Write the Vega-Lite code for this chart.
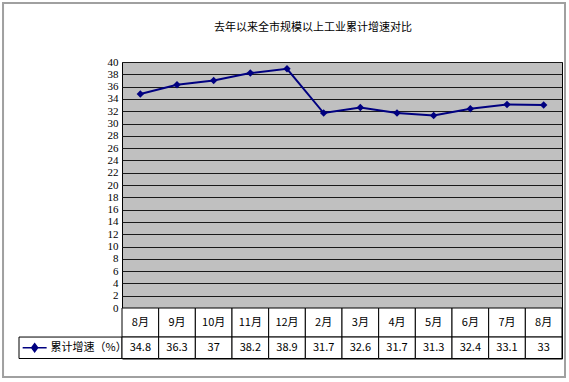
{
  "$schema": "https://vega.github.io/schema/vega-lite/v6.json",
  "padding": {"left": 2, "top": 2, "right": 2, "bottom": 2},
  "background": "white",
  "datasets": {
    "growth": [
      {"key": "上年8月", "label": "8月", "value": 34.8},
      {"key": "上年9月", "label": "9月", "value": 36.3},
      {"key": "上年10月", "label": "10月", "value": 37},
      {"key": "上年11月", "label": "11月", "value": 38.2},
      {"key": "上年12月", "label": "12月", "value": 38.9},
      {"key": "本年2月", "label": "2月", "value": 31.7},
      {"key": "本年3月", "label": "3月", "value": 32.6},
      {"key": "本年4月", "label": "4月", "value": 31.7},
      {"key": "本年5月", "label": "5月", "value": 31.3},
      {"key": "本年6月", "label": "6月", "value": 32.4},
      {"key": "本年7月", "label": "7月", "value": 33.1},
      {"key": "本年8月", "label": "8月", "value": 33}
    ]
  },
  "spacing": 0,
  "bounds": "flush",
  "hconcat": [
    {
      "width": 103,
      "height": 296.5,
      "data": {"values": [{}]},
      "layer": [
        {
          "mark": {"type": "rect", "fillOpacity": 0, "stroke": "#a0a0a0", "strokeWidth": 2},
          "encoding": {
            "x": {"datum": -0.155, "type": "quantitative", "scale": {"domain": [0, 1], "nice": false, "zero": false}, "axis": null},
            "x2": {"datum": 5.301},
            "y": {"datum": 49.59, "type": "quantitative", "scale": {"domain": [-8.21, 40], "nice": false, "zero": false}, "axis": null},
            "y2": {"datum": -11.22}
          }
        },
        {
          "mark": {"type": "rect", "fill": "white", "stroke": "black", "strokeWidth": 1},
          "encoding": {
            "x": {"datum": 0, "type": "quantitative", "scale": {"domain": [0, 1], "nice": false, "zero": false}, "axis": null},
            "x2": {"datum": 1},
            "y": {"datum": -4.72, "type": "quantitative", "scale": {"domain": [-8.21, 40], "nice": false, "zero": false}, "axis": null},
            "y2": {"datum": -8.21}
          }
        },
        {
          "mark": {"type": "point", "shape": "M-1,0L1,0M0,-0.33L0.25,0L0,0.33L-0.25,0Z", "size": 576, "filled": true, "fill": "#000080", "stroke": "#000080", "strokeWidth": 1.5, "opacity": 1},
          "encoding": {
            "x": {"datum": 0.152, "type": "quantitative", "scale": {"domain": [0, 1], "nice": false, "zero": false}, "axis": null},
            "y": {"datum": -6.46, "type": "quantitative", "scale": {"domain": [-8.21, 40], "nice": false, "zero": false}, "axis": null}
          }
        },
        {
          "mark": {"type": "text", "align": "left", "baseline": "middle", "fontSize": 11, "font": "Noto Sans CJK SC", "color": "#000000"},
          "encoding": {
            "x": {"datum": 0.306, "type": "quantitative", "scale": {"domain": [0, 1], "nice": false, "zero": false}, "axis": null},
            "y": {"datum": -6.46, "type": "quantitative", "scale": {"domain": [-8.21, 40], "nice": false, "zero": false}, "axis": null},
            "text": {"datum": "累计增速（%）"}
          }
        }
      ]
    },
    {
      "width": 440,
      "height": 296.5,
      "view": {"fill": "#c0c0c0", "stroke": "#000000", "strokeWidth": 1},
      "title": {"text": "去年以来全市规模以上工业累计增速对比", "anchor": "middle", "frame": "group", "dx": -29, "offset": 23, "fontSize": 11, "font": "Noto Sans CJK SC", "fontWeight": "normal", "color": "#000000"},
      "data": {"name": "growth"},
      "encoding": {
        "x": {"field": "key", "type": "ordinal", "sort": null, "scale": {"type": "band", "paddingInner": 0, "paddingOuter": 0}, "axis": null}
      },
      "layer": [
        {
          "mark": {"type": "rect", "fill": "white", "stroke": "black", "strokeWidth": 1},
          "encoding": {
            "y": {"datum": 0, "type": "quantitative", "scale": {"domain": [-8.21, 40], "nice": false, "zero": false},
              "axis": {"title": null, "values": [0, 2, 4, 6, 8, 10, 12, 14, 16, 18, 20, 22, 24, 26, 28, 30, 32, 34, 36, 38, 40], "grid": true, "gridColor": "#1a1a1a", "gridWidth": 1, "gridOpacity": 1, "domain": false, "ticks": false, "labelFont": "Liberation Serif", "labelFontSize": 11, "labelColor": "#000000", "labelPadding": 4}},
            "y2": {"datum": -4.72}
          }
        },
        {
          "mark": {"type": "rect", "fill": "white", "stroke": "black", "strokeWidth": 1},
          "encoding": {
            "y": {"datum": -4.72, "type": "quantitative", "scale": {"domain": [-8.21, 40], "nice": false, "zero": false},
              "axis": {"title": null, "values": [0, 2, 4, 6, 8, 10, 12, 14, 16, 18, 20, 22, 24, 26, 28, 30, 32, 34, 36, 38, 40], "grid": true, "gridColor": "#1a1a1a", "gridWidth": 1, "gridOpacity": 1, "domain": false, "ticks": false, "labelFont": "Liberation Serif", "labelFontSize": 11, "labelColor": "#000000", "labelPadding": 4}},
            "y2": {"datum": -8.21}
          }
        },
        {
          "mark": {"type": "text", "baseline": "middle", "fontSize": 11, "font": "Noto Sans CJK SC", "color": "#000000"},
          "encoding": {
            "y": {"datum": -2.36, "type": "quantitative", "scale": {"domain": [-8.21, 40], "nice": false, "zero": false},
              "axis": {"title": null, "values": [0, 2, 4, 6, 8, 10, 12, 14, 16, 18, 20, 22, 24, 26, 28, 30, 32, 34, 36, 38, 40], "grid": true, "gridColor": "#1a1a1a", "gridWidth": 1, "gridOpacity": 1, "domain": false, "ticks": false, "labelFont": "Liberation Serif", "labelFontSize": 11, "labelColor": "#000000", "labelPadding": 4}},
            "text": {"field": "label", "type": "nominal"}
          }
        },
        {
          "mark": {"type": "text", "baseline": "middle", "fontSize": 11, "font": "Noto Sans CJK SC", "color": "#000000"},
          "encoding": {
            "y": {"datum": -6.46, "type": "quantitative", "scale": {"domain": [-8.21, 40], "nice": false, "zero": false},
              "axis": {"title": null, "values": [0, 2, 4, 6, 8, 10, 12, 14, 16, 18, 20, 22, 24, 26, 28, 30, 32, 34, 36, 38, 40], "grid": true, "gridColor": "#1a1a1a", "gridWidth": 1, "gridOpacity": 1, "domain": false, "ticks": false, "labelFont": "Liberation Serif", "labelFontSize": 11, "labelColor": "#000000", "labelPadding": 4}},
            "text": {"field": "value", "type": "nominal"}
          }
        },
        {
          "mark": {"type": "line", "color": "#000080", "strokeWidth": 2, "point": {"shape": "diamond", "size": 55, "filled": true, "color": "#000080", "opacity": 1}},
          "encoding": {
            "y": {"field": "value", "type": "quantitative", "scale": {"domain": [-8.21, 40], "nice": false, "zero": false},
              "axis": {"title": null, "values": [0, 2, 4, 6, 8, 10, 12, 14, 16, 18, 20, 22, 24, 26, 28, 30, 32, 34, 36, 38, 40], "grid": true, "gridColor": "#1a1a1a", "gridWidth": 1, "gridOpacity": 1, "domain": false, "ticks": false, "labelFont": "Liberation Serif", "labelFontSize": 11, "labelColor": "#000000", "labelPadding": 4}}
          }
        }
      ]
    }
  ],
  "config": {"view": {"stroke": null}, "font": "Noto Sans CJK SC"}
}
